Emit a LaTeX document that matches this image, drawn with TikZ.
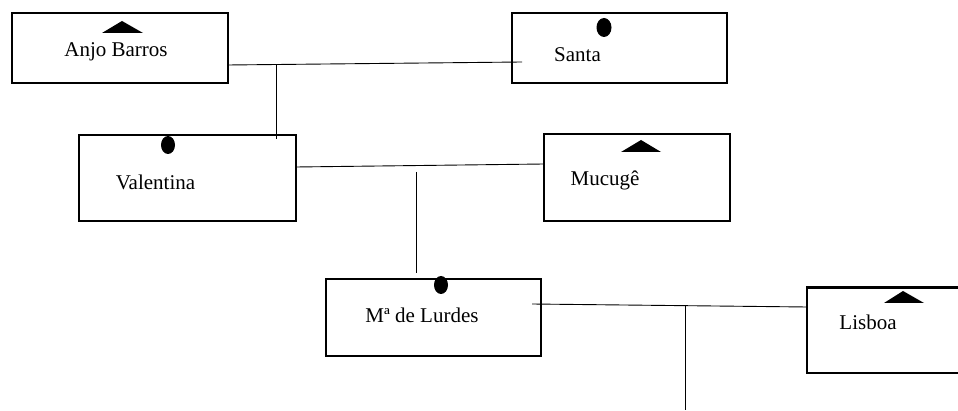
\documentclass[tikz,border=0pt]{standalone}
\usepackage{fontspec}
\setmainfont{Liberation Serif}
\begin{document}
\begin{tikzpicture}[x=1pt,y=-1pt,
  box/.style={draw=black,line width=2.8pt,fill=none},
  lbl/.style={anchor=base,inner sep=0pt,font=\fontsize{21}{25}\selectfont},
  conn/.style={draw=black,line width=0.9pt},
  tri/.style={fill=black},
  dotm/.style={fill=black}]
\fill[white] (0,0) rectangle (958,411);
\useasboundingbox (0,0) rectangle (958,411);
\begin{scope}
\clip (0,0) rectangle (958,411);
% boxes
\draw[box] (12,13) rectangle (228,83);
\draw[box] (512,13) rectangle (727,83);
\draw[box] (79,135) rectangle (296,221);
\draw[box] (544,134) rectangle (730,221);
\draw[box] (326,279) rectangle (541,356);
\draw[box] (807,287.5) rectangle (966,373);
\end{scope}
% labels
\node[lbl] (anjo) at (116,57) {Anjo Barros};
\node[lbl] (santa) at (577.5,62) {Santa};
\node[lbl] (val) at (155.5,190) {Valentina};
\node[lbl] (muc) at (605,186) {Mucugê};
\node[lbl] (lur) at (422,323) {Mª de Lurdes};
\node[lbl] (lis) at (868,330) {Lisboa};
% markers
\fill[tri] (102,33) -- (122,21) -- (143,33) -- cycle;
\fill[dotm] (604,27.5) ellipse [x radius=7.5, y radius=9.5];
\fill[dotm] (168,145) ellipse [x radius=7, y radius=9];
\fill[tri] (621,152) -- (641,140) -- (661,152) -- cycle;
\fill[dotm] (441,285) ellipse [x radius=7, y radius=9];
\fill[tri] (884,303) -- (903,291) -- (924,303) -- cycle;
% connector end points
\coordinate (a1) at (228,65);
\coordinate (a2) at (522,62);
\coordinate (b1) at (276,64.5);
\coordinate (b2) at (276,139);
\coordinate (c1) at (296,167);
\coordinate (c2) at (544,164);
\coordinate (d1) at (416,172);
\coordinate (d2) at (416,273);
\coordinate (e1) at (532,304);
\coordinate (e2) at (807,307);
\coordinate (f1) at (685,306.5);
\coordinate (f2) at (685,410);
\draw[conn] (a1) -- (a2);
\draw[conn] (b1) -- (b2);
\draw[conn] (c1) -- (c2);
\draw[conn] (d1) -- (d2);
\draw[conn] (e1) -- (e2);
\draw[conn] (f1) -- (f2);
\end{tikzpicture}
\end{document}
